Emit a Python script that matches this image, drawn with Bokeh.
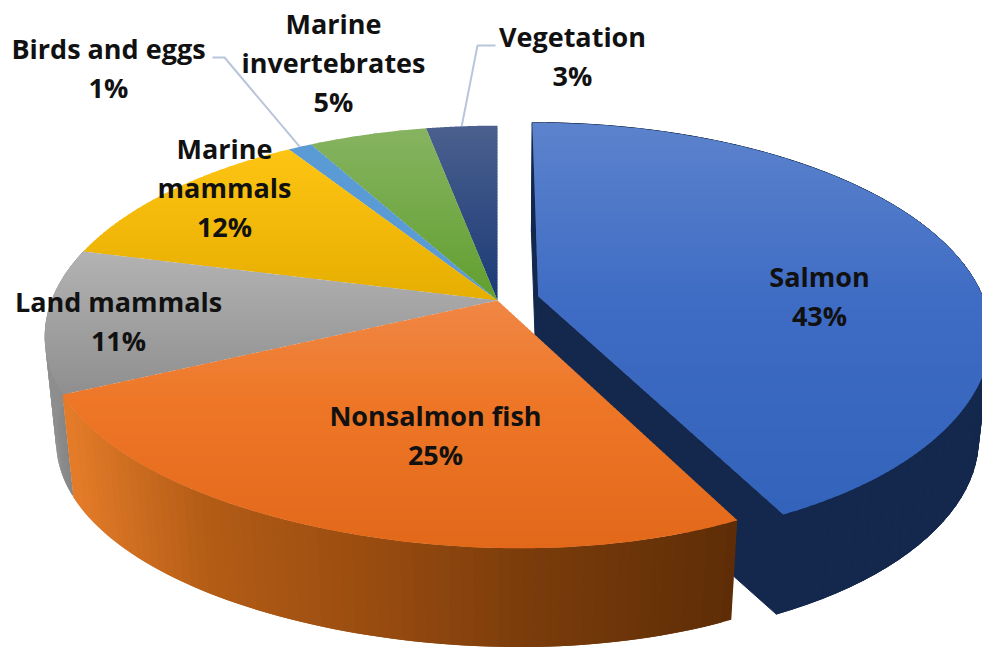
import numpy as np
from bokeh.core.properties import value
from bokeh.embed import file_html
from bokeh.plotting import figure
from bokeh.resources import INLINE

# Shares of the diet, clockwise from twelve o'clock
categories = ["Salmon", "Nonsalmon fish", "Land mammals", "Marine\nmammals",
              "Birds and eggs", "Marine\ninvertebrates", "Vegetation"]
shares = [43, 25, 11, 12, 1, 5, 3]

# Top-surface shading per slice: (screen y, colour) stops
top_shades = [
    [(122, "#5c83cc"), (300, "#3f6cc4"), (510, "#3363ba")],
    [(300, "#f08745"), (400, "#ee7727"), (550, "#e2681a")],
    [(250, "#b3b3b3"), (397, "#8e8e8e")],
    [(150, "#fec414"), (300, "#e6ae00")],
    [(145, "#5b9bd5"), (300, "#5b9bd5")],
    [(130, "#86b360"), (300, "#619f2f")],
    [(125, "#4b608e"), (300, "#1a3a76")],
]
# Side-wall shading by screen x
orange_wall = [(70, "#e37b29"), (200, "#b45d16"), (400, "#94490f"), (520, "#7c3d0b"), (735, "#5e2d07")]
gray_wall = [(45, "#8f8f8f"), (80, "#7c7c7c")]
salmon_wall = "#14284d"

# Label centres, in the same order as the categories
label_x = [819, 435, 118, 224, 108, 333, 572]
label_y = [295, 434, 320, 187, 67, 62, 55]
LINE_GAP = 39

# Projection of the tilted disc
CX, CY = 497, 300
A, B, K = 446, 205, 0.1725
SKEW = 22
SHRINK, DEPTH = 0.975, 105
EXPLODE = 0.094


def project(x, y, lower=False):
    w = 1 - K * y
    sx, sy = A * x / w, B * y / w
    sx = sx + SKEW * np.clip(y, 0, None) ** 4
    if lower:
        sx, sy = sx * SHRINK, sy * SHRINK + DEPTH
    return CX + sx, CY + sy


def rim(t0, t1, off, lower=False, n=160):
    t = np.linspace(t0, t1, n)
    return project(off[0] + np.sin(t), off[1] - np.cos(t), lower)


def mix(stops, v):
    pos = [s[0] for s in stops]
    rgb = [[int(s[1][i:i + 2], 16) for i in (1, 3, 5)] for s in stops]
    c = [np.interp(v, pos, [r[j] for r in rgb]) for j in range(3)]
    return "#%02x%02x%02x" % tuple(int(round(q)) for q in c)


def clip_band(xs, ys, lo, hi):
    """Cut a convex polygon down to the horizontal band lo <= y <= hi."""
    pts = list(zip(xs, ys))
    for bound, keep in ((lo, lambda y: y >= lo), (hi, lambda y: y <= hi)):
        out = []
        for i, (x1, y1) in enumerate(pts):
            x0, y0 = pts[i - 1]
            if keep(y0) != keep(y1):
                f = (bound - y0) / (y1 - y0)
                out.append((x0 + f * (x1 - x0), bound))
            if keep(y1):
                out.append((x1, y1))
        pts = out
        if not pts:
            return None
    return [p[0] for p in pts], [p[1] for p in pts]


p = figure(width=982, height=651, x_range=(0, 982), y_range=(651, 0),
           toolbar_location=None, output_backend="svg", min_border=0,
           background_fill_color="white", border_fill_color="white", outline_line_color=None)
p.axis.visible = False
p.grid.visible = False

fractions = np.cumsum([0] + shares) / sum(shares) * 2 * np.pi
slices = []
for i in range(len(shares)):
    t0, t1 = fractions[i], fractions[i + 1]
    mid = (t0 + t1) / 2
    off = (EXPLODE * np.sin(mid), -EXPLODE * np.cos(mid)) if i == 0 else (0, 0)
    slices.append((t0, t1, off))


def draw_wall(t0, t1, off, colour_of, n=70, stroke=False):
    xu, yu = rim(t0, t1, off, n=n)
    xl, yl = rim(t0, t1, off, True, n=n)
    qx, qy, qc = [], [], []
    # Each quad runs on under the next one so no seam shows between them
    for j in range(n - 1):
        k = min(j + 2, n - 1)
        qx.append([xu[j], xu[k], xl[k], xl[j]])
        qy.append([yu[j], yu[k], yl[k], yl[j]])
        qc.append(colour_of((xu[j] + xu[j + 1]) / 2))
    p.patches(qx, qy, fill_color=qc, line_color=qc if stroke else None, line_width=1)


def draw_cut(t, off, colour):
    ax, ay = project(np.array([off[0]]), np.array([off[1]]))
    bx, by = project(np.array([off[0]]), np.array([off[1]]), True)
    ex, ey = rim(t, t, off, n=1)
    fx, fy = rim(t, t, off, True, n=1)
    p.patch([ax[0], ex[0], fx[0], bx[0]], [ay[0], ey[0], fy[0], by[0]],
            fill_color=colour, line_color=colour, line_width=1)


def draw_top(i):
    t0, t1, off = slices[i]
    rx, ry = rim(t0, t1, off)
    ax, ay = project(np.array([off[0]]), np.array([off[1]]))
    xs, ys = [ax[0]] + list(rx), [ay[0]] + list(ry)
    px, py, pc = [], [], []
    step = 3
    # Bands overlap downwards and are painted top to bottom, hiding the joins
    for lo in np.arange(np.floor(min(ys)), max(ys) + step, step):
        part = clip_band(xs, ys, lo, lo + step + 1)
        if part:
            px.append(part[0])
            py.append(part[1])
            pc.append(mix(top_shades[i], lo + step / 2))
    p.patches(px, py, fill_color=pc, line_color=None)


# The pulled-out salmon slice sits behind everything else
s0, s1, s_off = slices[0]
draw_wall(s0, s1, s_off, lambda x: salmon_wall, stroke=True)
draw_cut(s0, s_off, salmon_wall)
draw_cut(s1, s_off, salmon_wall)
draw_top(0)

for i in (6, 5, 4, 3):
    draw_top(i)
draw_wall(slices[2][0], slices[2][1], slices[2][2], lambda x: mix(gray_wall, x))
draw_top(2)
draw_wall(slices[1][0], slices[1][1], slices[1][2], lambda x: mix(orange_wall, x))
draw_top(1)

# Leader lines for the two labels set outside the pie
for i, elbow in ((4, [(212, 57), (224, 57)]), (6, [(495, 45), (477, 45)])):
    t0, t1, off = slices[i]
    ex, ey = rim((t0 + t1) / 2, (t0 + t1) / 2, off, n=1)
    p.line([e[0] for e in elbow] + [ex[0]], [e[1] for e in elbow] + [ey[0]],
           line_color="#b9c5da", line_width=2)

# Category labels with their percentages
tx, ty, tt = [], [], []
for name, share, x, y in zip(categories, shares, label_x, label_y):
    rows = name.split("\n") + [f"{share}%"]
    for r, row in enumerate(rows):
        tx.append(x)
        ty.append(y + (r - (len(rows) - 1) / 2) * LINE_GAP)
        tt.append(row)
p.text(tx, ty, text=tt, text_font=value("Open Sans"), text_font_size="27px", text_font_style="bold",
       text_align="center", text_baseline="middle", text_color="#111111")

open("out.html", "w").write(file_html(p, INLINE))
